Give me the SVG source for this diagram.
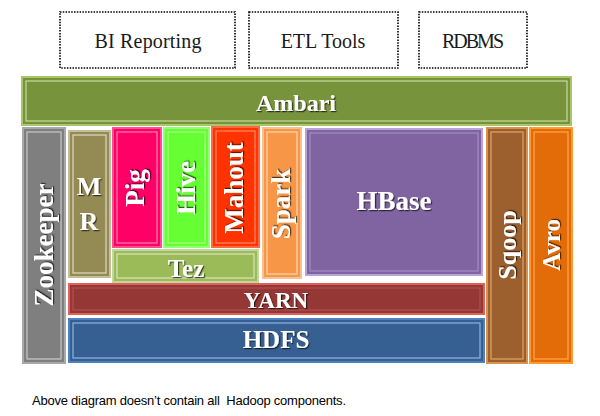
<svg xmlns="http://www.w3.org/2000/svg" width="600" height="416" viewBox="0 0 600 416">
<defs>
<filter id="sh" x="-20%" y="-20%" width="140%" height="140%">
<feDropShadow dx="1.2" dy="1.2" stdDeviation="0.7" flood-color="#000" flood-opacity="0.65"/>
</filter>
</defs>
<style>
.tb{fill:#fff;stroke:#000;stroke-width:1.6;stroke-dasharray:1.5 1.3}
.tt{font-family:"Liberation Serif",serif;font-size:20px;fill:#1a1a1a;text-anchor:middle}
.lbl{font-family:"Liberation Serif",serif;font-weight:bold;fill:#fff;text-anchor:middle;filter:url(#sh)}
.inner{fill:none;stroke-width:1.2}
.note{font-family:"Liberation Sans",sans-serif;font-size:13px;fill:#000}
</style>
<g id="bi-reporting"><rect class="tb" x="60" y="12" width="175" height="56"/><text class="tt" x="148" y="48" textLength="107">BI Reporting</text></g>
<g id="etl-tools"><rect class="tb" x="249" y="12" width="149" height="56"/><text class="tt" x="323" y="48">ETL Tools</text></g>
<g id="rdbms"><rect class="tb" x="419" y="12" width="108" height="56"/><text class="tt" x="473" y="48" textLength="62">RDBMS</text></g>

<g id="ambari">
<rect x="22" y="77" width="549" height="48" fill="#77933C" stroke="#A9C669" stroke-width="2"/>
<rect class="inner" x="26" y="81" width="541" height="40" stroke="#C6DB9C"/>
<text class="lbl" x="296" y="111" font-size="24">Ambari</text>
</g>
<g id="zookeeper">
<rect x="23" y="128" width="42" height="235" fill="#7F7F7F" stroke="#A8A8A8" stroke-width="2"/>
<rect class="inner" x="27" y="132" width="34" height="227" stroke="#C8C8C8"/>
<text class="lbl" font-size="27" transform="translate(44 245) rotate(-90)" y="9">Zookeeper</text>
</g>
<g id="mr">
<rect x="69" y="131" width="41" height="146" fill="#948A54" stroke="#C4BD97" stroke-width="2"/>
<rect class="inner" x="73" y="135" width="33" height="138" stroke="#DDD9C3"/>
<text class="lbl" x="89" y="195" font-size="26">M</text>
<text class="lbl" x="89" y="230" font-size="26">R</text>
</g>
<g id="pig">
<rect x="113" y="128" width="48" height="119" fill="#FF0066" stroke="#FF4D8F" stroke-width="2"/>
<rect class="inner" x="117" y="132" width="40" height="111" stroke="#FF80B0"/>
<text class="lbl" font-size="27" transform="translate(137 188) rotate(-90)" y="7">Pig</text>
</g>
<g id="hive">
<rect x="164" y="128" width="45" height="119" fill="#66FF33" stroke="#94FF70" stroke-width="2"/>
<rect class="inner" x="168" y="132" width="37" height="111" stroke="#A8FF88"/>
<text class="lbl" font-size="27" transform="translate(186 188) rotate(-90)" y="9">Hive</text>
</g>
<g id="mahout">
<rect x="212" y="127" width="47" height="120" fill="#FF3300" stroke="#FF6A40" stroke-width="2"/>
<rect class="inner" x="216" y="131" width="39" height="112" stroke="#FF8A66"/>
<text class="lbl" font-size="27" transform="translate(235 188) rotate(-90)" y="8">Mahout</text>
</g>
<g id="tez">
<rect x="113" y="250" width="145" height="32" fill="#9BBB59" stroke="#C3D69B" stroke-width="2"/>
<rect class="inner" x="117" y="254" width="137" height="24" stroke="#D7E4BD"/>
<text class="lbl" x="186" y="277" font-size="25">Tez</text>
</g>
<g id="spark">
<rect x="263" y="128" width="38" height="150" fill="#F79646" stroke="#FAC090" stroke-width="2"/>
<rect class="inner" x="267" y="132" width="30" height="142" stroke="#FCD5B4"/>
<text class="lbl" font-size="27" transform="translate(282 204) rotate(-90)" y="8">Spark</text>
</g>
<g id="hbase">
<rect x="304" y="127" width="180" height="150" fill="#8064A2" stroke="#FFFFFF" stroke-width="2"/>
<rect x="306" y="129" width="176" height="146" fill="none" stroke="#B8A4D6" stroke-width="2"/>
<rect class="inner" x="310" y="133" width="168" height="138" stroke="#A48BC6"/>
<text class="lbl" x="394" y="210" font-size="27">HBase</text>
</g>
<g id="yarn">
<rect x="69" y="284" width="415" height="30" fill="#953735" stroke="#E0605E" stroke-width="2"/>
<rect class="inner" x="73" y="288" width="407" height="22" stroke="#B05050"/>
<text class="lbl" x="276" y="308" font-size="23">YARN</text>
</g>
<g id="hdfs">
<rect x="69" y="319" width="415" height="43" fill="#376092" stroke="#4F81BD" stroke-width="2"/>
<rect class="inner" x="73" y="323" width="407" height="35" stroke="#8EB4E3"/>
<text class="lbl" x="276" y="348" font-size="25">HDFS</text>
</g>
<g id="sqoop">
<rect x="487" y="128" width="40" height="235" fill="#9C5F2E" stroke="#D9914E" stroke-width="2"/>
<rect class="inner" x="491" y="132" width="32" height="227" stroke="#E3A46A"/>
<text class="lbl" font-size="26" transform="translate(507 245) rotate(-90)" y="9">Sqoop</text>
</g>
<g id="avro">
<rect x="530" y="128" width="42" height="235" fill="#E36C09" stroke="#FF9A2E" stroke-width="2"/>
<rect class="inner" x="534" y="132" width="34" height="227" stroke="#FFA64D"/>
<text class="lbl" font-size="25" transform="translate(551 245) rotate(-90)" y="9">Avro</text>
</g>
<g id="connectors"/>
<text class="note" x="32" y="405" xml:space="preserve" textLength="314">Above diagram doesn’t contain all  Hadoop components.</text>
</svg>
